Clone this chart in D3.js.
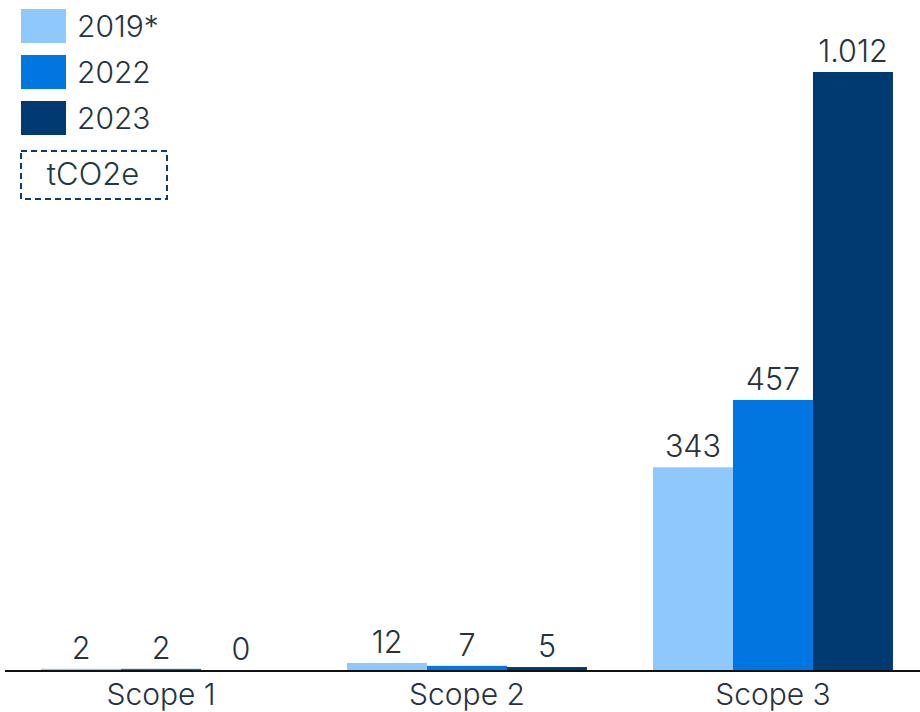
<!DOCTYPE html>
<html><head><meta charset="utf-8">
<script src="https://cdn.jsdelivr.net/npm/d3@7"></script>
<style>body{margin:0;background:#fff}svg{display:block}text{font-family:Inter,Roboto,"Noto Sans",sans-serif;font-weight:300}</style>
</head><body><svg id="c" width="920" height="712"></svg>
<script>
const categories = ["Scope 1", "Scope 2", "Scope 3"];
const seriesNames = ["2019*", "2022", "2023"];
const values2019 = [2, 12, 343];
const values2022 = [2, 7, 457];
const values2023 = [0, 5, 1012];
const valueLabels2019 = ["2", "12", "343"];
const valueLabels2022 = ["2", "7", "457"];
const valueLabels2023 = ["0", "5", "1.012"];
const unitLabel = "tCO2e";
const colors = ["#8fc8fd", "#0077e0", "#003a70"];

const series = [values2019, values2022, values2023];
const labels = [valueLabels2019, valueLabels2022, valueLabels2023];
const FONT = "Inter, Roboto, 'Noto Sans', sans-serif";

const svg = d3.select("#c");
const baseY = 670;
const x0 = d3.scaleBand().domain(categories).range([8, 926]).paddingInner(66/306).paddingOuter(0.108);
const x1 = d3.scaleBand().domain(seriesNames).range([0, x0.bandwidth()]);
const y = d3.scaleLinear().domain([0, 1012]).range([baseY, 72]);

const g = svg.append("g");
series.forEach((vals, si) => {
  g.selectAll(null).data(categories).enter().append("rect")
    .attr("x", (c) => x0(c) + x1(seriesNames[si]))
    .attr("y", (c, i) => y(vals[i]))
    .attr("width", x1.bandwidth())
    .attr("height", (c, i) => baseY - y(vals[i]))
    .attr("fill", colors[si]);
  g.selectAll(null).data(categories).enter().append("text")
    .attr("x", (c) => x0(c) + x1(seriesNames[si]) + x1.bandwidth()/2)
    .attr("y", (c, i) => y(vals[i]) - 10)
    .attr("text-anchor", "middle")
    .attr("font-size", 30.5)
    .attr("fill", "#26323e")
    .text((c, i) => labels[si][i]);
});

// axis
const axis = d3.axisBottom(x0).tickSize(0).tickPadding(0);
const ax = svg.append("g").attr("transform", `translate(0,${baseY})`).call(axis);
ax.select(".domain").remove();
ax.selectAll("text").attr("font-size", 30).attr("fill", "#26323e").attr("dy", null).attr("y", 35)
  .style("font-family", FONT).style("font-weight", 300);
svg.append("line").attr("x1", 5).attr("x2", 920).attr("y1", baseY + 1).attr("y2", baseY + 1)
  .attr("stroke", "#111").attr("stroke-width", 2);

// legend
const leg = svg.append("g");
seriesNames.forEach((n, i) => {
  const yy = 9 + i * 46;
  leg.append("rect").attr("x", 21).attr("y", yy).attr("width", 45).attr("height", 34).attr("fill", colors[i]);
  leg.append("text").attr("x", 77).attr("y", yy + 28).attr("font-size", 30).attr("fill", "#26323e").text(n);
});
leg.append("rect").attr("x", 21).attr("y", 151).attr("width", 146).attr("height", 48)
  .attr("fill", "none").attr("stroke", "#0d3b6e").attr("stroke-width", 2).attr("stroke-dasharray", "6,4");
leg.append("text").attr("x", 93).attr("y", 185).attr("text-anchor", "middle").attr("font-size", 31)
  .attr("fill", "#1d3a40").text(unitLabel);
</script></body></html>
